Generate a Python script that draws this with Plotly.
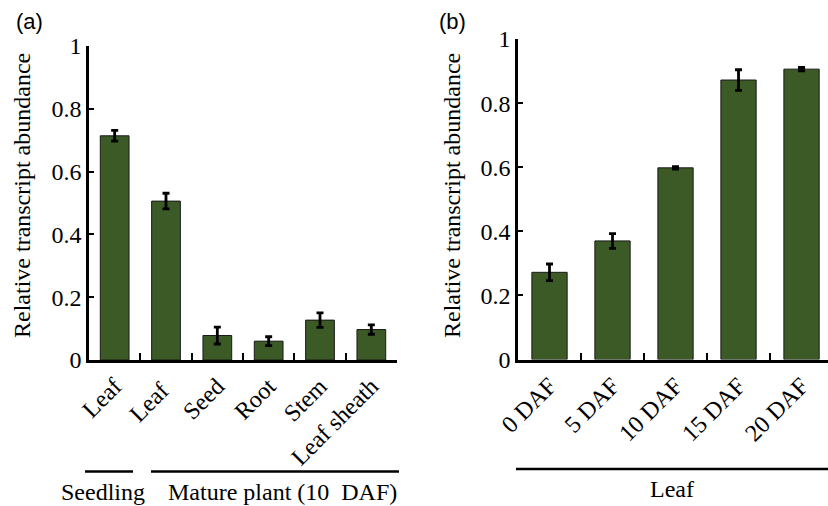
import plotly.graph_objects as go

# Panel (a)
cats_a = ["Leaf", "Leaf ", "Seed", "Root", "Stem", "Leaf sheath"]
vals_a = [0.714, 0.506, 0.078, 0.060, 0.127, 0.097]
errs_a = [0.017, 0.025, 0.027, 0.014, 0.023, 0.015]

# Panel (b)
cats_b = ["0 DAF", "5 DAF", "10 DAF", "15 DAF", "20 DAF"]
vals_b = [0.272, 0.370, 0.598, 0.872, 0.906]
errs_b = [0.026, 0.023, 0.004, 0.032, 0.005]

yticks = [0, 0.2, 0.4, 0.6, 0.8, 1]
ytick_text = ["0", "0.2", "0.4", "0.6", "0.8", "1"]

BAR = "#3b5a25"
SERIF = "Liberation Serif"
SANS = "Liberation Sans"
FS = 24

W, H = 828, 506

fig = go.Figure()
err_style = dict(type="data", thickness=2.8, width=3.5, color="black")
fig.add_trace(go.Bar(x=cats_a, y=vals_a, error_y=dict(array=errs_a, **err_style),
                     marker=dict(color=BAR, line=dict(color="#1a1a1a", width=1)),
                     xaxis="x", yaxis="y", showlegend=False))
fig.add_trace(go.Bar(x=cats_b, y=vals_b, error_y=dict(array=errs_b, **err_style),
                     marker=dict(color=BAR, line=dict(color="#1a1a1a", width=1)),
                     xaxis="x2", yaxis="y2", showlegend=False))

def px(x):
    return x / W

def py(y):
    return (H - y) / H

common_x = dict(showline=True, linecolor="black", linewidth=2.6, ticks="inside",
                tickson="boundaries", ticklen=7, tickwidth=2.4, tickcolor="black",
                tickangle=-45, tickfont=dict(family=SERIF, size=FS, color="black"),
                showgrid=False, zeroline=False, fixedrange=True, automargin=False)
common_y = dict(showline=True, linecolor="black", linewidth=2.6, ticks="inside",
                ticklen=5, tickwidth=2.4, tickcolor="black", range=[0, 1],
                tickvals=yticks, ticktext=ytick_text,
                tickfont=dict(family=SERIF, size=FS, color="black"),
                showgrid=False, zeroline=False, fixedrange=True, automargin=False)

fig.update_layout(
    template="none",
    width=W, height=H,
    margin=dict(l=0, r=0, t=0, b=0, pad=0),
    paper_bgcolor="white", plot_bgcolor="white",
    bargap=0.44,
    xaxis=dict(domain=[px(89), px(397)], anchor="y", range=[-0.5, 5.5], **common_x),
    yaxis=dict(domain=[py(360), py(46)], anchor="x", **common_y),
    xaxis2=dict(domain=[px(518), 1.0], anchor="y2", range=[-0.5, 4.42], **common_x),
    yaxis2=dict(domain=[py(359.5), py(39)], anchor="x2", **common_y),
)

def ann(text, x, y, font, angle=0):
    return dict(text=text, x=px(x), y=py(y), xref="paper", yref="paper", showarrow=False,
                xanchor="center", yanchor="middle", textangle=angle, font=font)

serif_font = dict(family=SERIF, size=FS, color="black")
sans_font = dict(family=SANS, size=22, color="black")

annotations = [
    ann("(a)", 29, 22, sans_font),
    ann("(b)", 452, 22, sans_font),
    ann("Relative transcript abundance", 22, 196, serif_font, -90),
    ann("Relative transcript abundance", 452, 196, serif_font, -90),
    ann("Seedling", 103, 492, serif_font),
    ann("Mature plant (10\u00a0 DAF)", 282, 492, serif_font),
    ann("Leaf", 672, 489, serif_font),
]
fig.update_layout(annotations=annotations)

shapes = [
    dict(type="line", xref="paper", yref="paper", x0=px(85), x1=px(133), y0=py(471.5), y1=py(471.5),
         line=dict(color="black", width=2.6)),
    dict(type="line", xref="paper", yref="paper", x0=px(151), x1=px(399), y0=py(471.5), y1=py(471.5),
         line=dict(color="black", width=2.6)),
    dict(type="line", xref="paper", yref="paper", x0=px(516), x1=1.0, y0=py(469), y1=py(469),
         line=dict(color="black", width=2.6)),
]
fig.update_layout(shapes=shapes)

fig.write_html("out.html")
